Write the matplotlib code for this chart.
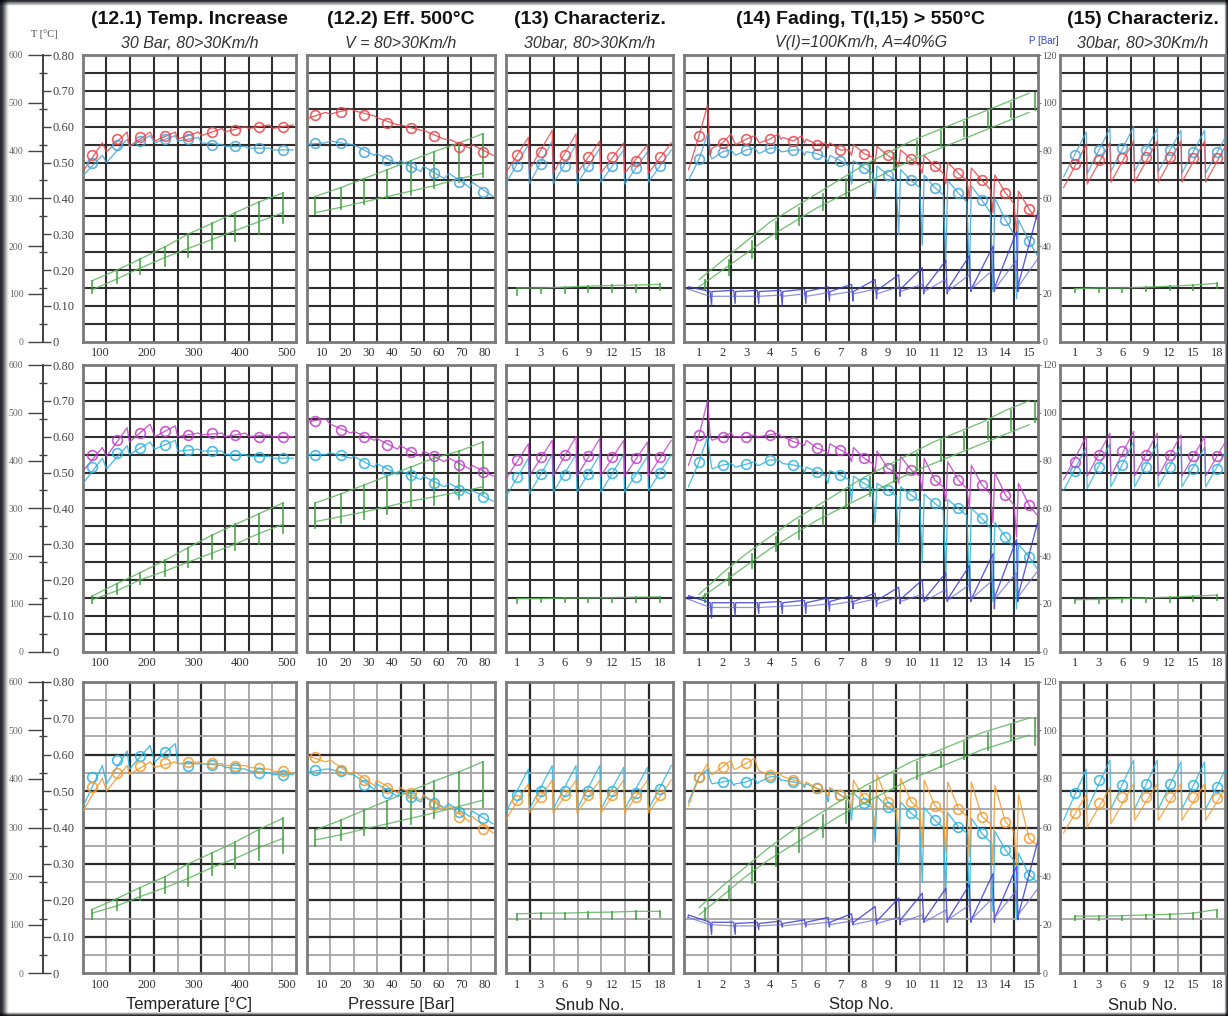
import numpy as np
import matplotlib.pyplot as plt
from matplotlib.patches import Rectangle

W, H = 1228, 1016

# ---------------- labels ----------------
TITLES = ['(12.1) Temp. Increase', '(12.2) Eff. 500°C', '(13) Characteriz.',
          '(14) Fading, T(I,15) > 550°C', '(15) Characteriz.']
SUBTITLES = ['30 Bar, 80>30Km/h', 'V = 80>30Km/h', '30bar, 80>30Km/h',
             'V(I)=100Km/h, A=40%G', '30bar, 80>30Km/h']
XLABELS = ['Temperature [°C]', 'Pressure [Bar]', 'Snub No.', 'Stop No.', 'Snub No.']

TEMP_TICKS = [100, 200, 300, 400, 500]
PRESS_TICKS = [10, 20, 30, 40, 50, 60, 70, 80]
SNUB_LABELS = ['1', '3', '6', '9', '12', '15', '18']
STOP_LABELS = ['1', '2', '3', '4', '5', '6', '7', '8', '9', '10', '11', '12', '13', '14', '15']
T_TICKS = [0, 100, 200, 300, 400, 500, 600]
MU_TICKS = [0, 0.1, 0.2, 0.3, 0.4, 0.5, 0.6, 0.7, 0.8]
MU_LABELS = ['0', '0.10', '0.20', '0.30', '0.40', '0.50', '0.60', '0.70', '0.80']
P_TICKS = [0, 20, 40, 60, 80, 100, 120]

# ---------------- x positions of steps ----------------
TEMP_X = [83, 136, 185, 239, 288, 339, 389, 440, 491]
PRESS_X = [7, 18, 28, 38, 48, 58, 69, 79]
SNUB_X = [1, 2, 3, 4, 5, 6, 7]
STOP_X = [1, 2, 3, 4, 5, 6, 7, 8, 9, 10, 11, 12, 13, 14, 15]

# ---------------- (12.1) temperature increase : mu ----------------
R1_TW_S = [0.47, 0.53, 0.545, 0.56, 0.565, 0.575, 0.585, 0.595, 0.595]
R1_TW_C = [0.52, 0.565, 0.57, 0.575, 0.575, 0.585, 0.59, 0.60, 0.60]
R1_TW_E = [0.555, 0.585, 0.585, 0.585, 0.585, 0.595, 0.60, 0.605, 0.605]
R1_TC_S = [0.46, 0.50, 0.545, 0.555, 0.56, 0.555, 0.545, 0.54, 0.535]
R1_TC_C = [0.50, 0.55, 0.56, 0.565, 0.565, 0.55, 0.545, 0.54, 0.535]
R1_TC_E = [0.52, 0.565, 0.575, 0.575, 0.57, 0.55, 0.545, 0.54, 0.535]

R2_TW_S = [0.50, 0.545, 0.585, 0.60, 0.60, 0.605, 0.60, 0.60, 0.60]
R2_TW_C = [0.55, 0.59, 0.61, 0.615, 0.605, 0.61, 0.605, 0.60, 0.60]
R2_TW_E = [0.57, 0.625, 0.635, 0.63, 0.61, 0.61, 0.61, 0.605, 0.60]
R2_TC_S = [0.465, 0.51, 0.55, 0.565, 0.56, 0.56, 0.55, 0.545, 0.54]
R2_TC_C = [0.516, 0.554, 0.568, 0.577, 0.563, 0.559, 0.549, 0.543, 0.54]
R2_TC_E = [0.54, 0.575, 0.585, 0.59, 0.565, 0.56, 0.55, 0.545, 0.54]

R3_TW_S = [0.44, 0.50, 0.545, 0.565, 0.575, 0.575, 0.57, 0.565, 0.555]
R3_TW_C = [0.512, 0.549, 0.569, 0.576, 0.58, 0.576, 0.569, 0.562, 0.555]
R3_TW_E = [0.535, 0.57, 0.58, 0.58, 0.58, 0.575, 0.57, 0.56, 0.55]
R3_TC_S = [0.45, 0.52, 0.56, 0.58, 0.575, 0.575, 0.565, 0.555, 0.545]
R3_TC_C = [0.539, 0.585, 0.596, 0.608, 0.569, 0.572, 0.562, 0.549, 0.544]
R3_TC_E = [0.57, 0.61, 0.625, 0.63, 0.575, 0.57, 0.56, 0.55, 0.545]

# (12.1) green
R1_TG_HI = [0.17, 0.20, 0.23, 0.265, 0.30, 0.33, 0.36, 0.39, 0.415]
R1_TG_LO = [0.145, 0.175, 0.205, 0.235, 0.26, 0.285, 0.31, 0.335, 0.36]
R1_TG_TB = [0.135, 0.165, 0.19, 0.21, 0.235, 0.26, 0.28, 0.30, 0.33]
R2_TG_HI = [0.155, 0.19, 0.22, 0.255, 0.29, 0.325, 0.355, 0.385, 0.415]
R2_TG_LO = [0.145, 0.17, 0.20, 0.225, 0.25, 0.275, 0.30, 0.33, 0.355]
R2_TG_TB = [0.135, 0.16, 0.19, 0.21, 0.235, 0.26, 0.285, 0.30, 0.33]
R3_TG_HI = [0.175, 0.205, 0.235, 0.265, 0.30, 0.33, 0.36, 0.395, 0.425]
R3_TG_LO = [0.165, 0.185, 0.21, 0.235, 0.26, 0.29, 0.315, 0.345, 0.37]
R3_TG_TB = [0.15, 0.175, 0.20, 0.22, 0.24, 0.27, 0.29, 0.31, 0.33]

# ---------------- (12.2) efficiency : mu ----------------
R1_PW_S = [0.62, 0.635, 0.645, 0.625, 0.605, 0.59, 0.565, 0.55]
R1_PW_C = [0.632, 0.642, 0.632, 0.61, 0.596, 0.574, 0.544, 0.53]
R1_PW_E = [0.64, 0.65, 0.63, 0.605, 0.59, 0.565, 0.54, 0.52]
R1_PC_S = [0.55, 0.56, 0.55, 0.525, 0.505, 0.49, 0.47, 0.445]
R1_PC_C = [0.554, 0.554, 0.53, 0.507, 0.488, 0.47, 0.447, 0.419]
R1_PC_E = [0.555, 0.55, 0.52, 0.495, 0.475, 0.455, 0.43, 0.405]

R2_PW_S = [0.64, 0.635, 0.615, 0.595, 0.575, 0.56, 0.54, 0.52]
R2_PW_C = [0.645, 0.62, 0.60, 0.578, 0.556, 0.545, 0.522, 0.502]
R2_PW_E = [0.65, 0.61, 0.59, 0.565, 0.545, 0.53, 0.51, 0.49]
R2_PC_S = [0.55, 0.555, 0.545, 0.525, 0.505, 0.49, 0.47, 0.45]
R2_PC_C = [0.549, 0.549, 0.527, 0.507, 0.493, 0.47, 0.451, 0.432]
R2_PC_E = [0.55, 0.54, 0.515, 0.495, 0.48, 0.46, 0.44, 0.42]

R3_PW_S = [0.60, 0.585, 0.555, 0.53, 0.51, 0.49, 0.46, 0.43]
R3_PW_C = [0.593, 0.557, 0.53, 0.508, 0.494, 0.462, 0.43, 0.397]
R3_PW_E = [0.58, 0.545, 0.515, 0.495, 0.475, 0.45, 0.415, 0.385]
R3_PC_S = [0.55, 0.56, 0.545, 0.52, 0.50, 0.485, 0.465, 0.445]
R3_PC_C = [0.557, 0.555, 0.517, 0.494, 0.483, 0.467, 0.442, 0.426]
R3_PC_E = [0.56, 0.545, 0.505, 0.485, 0.47, 0.455, 0.43, 0.41]

# (12.2) green
R1_PG_HI = [0.405, 0.43, 0.455, 0.48, 0.505, 0.53, 0.555, 0.58]
R1_PG_LO = [0.36, 0.375, 0.39, 0.405, 0.42, 0.435, 0.455, 0.47]
R1_PG_TB = [0.355, 0.37, 0.385, 0.40, 0.41, 0.43, 0.445, 0.46]
R2_PG_HI = [0.415, 0.44, 0.465, 0.49, 0.515, 0.54, 0.56, 0.585]
R2_PG_LO = [0.363, 0.377, 0.39, 0.405, 0.42, 0.432, 0.446, 0.46]
R2_PG_TB = [0.345, 0.36, 0.37, 0.385, 0.40, 0.41, 0.425, 0.44]
R3_PG_HI = [0.393, 0.42, 0.447, 0.474, 0.50, 0.527, 0.553, 0.58]
R3_PG_LO = [0.366, 0.38, 0.396, 0.41, 0.425, 0.44, 0.458, 0.475]
R3_PG_TB = [0.35, 0.365, 0.38, 0.395, 0.41, 0.425, 0.44, 0.455]

# ---------------- (13) characterization : mu ----------------
R1_AW_L = [0.47, 0.48, 0.47, 0.47, 0.47, 0.47, 0.47]
R1_AW_C = [0.52, 0.53, 0.52, 0.515, 0.515, 0.505, 0.515]
R1_AW_H = [0.57, 0.59, 0.58, 0.56, 0.555, 0.55, 0.555]
R1_AC_L = [0.44, 0.44, 0.44, 0.44, 0.445, 0.44, 0.445]
R1_AC_C = [0.49, 0.495, 0.49, 0.49, 0.49, 0.485, 0.49]
R1_AC_H = [0.55, 0.56, 0.55, 0.54, 0.535, 0.53, 0.535]

R2_AW_L = [0.48, 0.49, 0.49, 0.49, 0.49, 0.49, 0.49]
R2_AW_C = [0.535, 0.543, 0.549, 0.545, 0.543, 0.54, 0.543]
R2_AW_H = [0.58, 0.59, 0.60, 0.595, 0.59, 0.585, 0.59]
R2_AC_L = [0.43, 0.44, 0.445, 0.445, 0.445, 0.445, 0.45]
R2_AC_C = [0.488, 0.496, 0.493, 0.496, 0.50, 0.488, 0.50]
R2_AC_H = [0.54, 0.55, 0.55, 0.55, 0.55, 0.545, 0.55]

R3_AW_L = [0.42, 0.44, 0.44, 0.44, 0.44, 0.44, 0.44]
R3_AW_C = [0.475, 0.485, 0.49, 0.49, 0.49, 0.485, 0.49]
R3_AW_H = [0.52, 0.53, 0.53, 0.53, 0.53, 0.53, 0.53]
R3_AC_L = [0.44, 0.45, 0.45, 0.45, 0.45, 0.45, 0.45]
R3_AC_C = [0.49, 0.50, 0.50, 0.50, 0.50, 0.495, 0.505]
R3_AC_H = [0.56, 0.57, 0.57, 0.57, 0.565, 0.565, 0.57]

R1_AG_HI = [0.15, 0.15, 0.152, 0.155, 0.157, 0.158, 0.16]
R1_AG_TB = [0.13, 0.135, 0.135, 0.14, 0.14, 0.14, 0.145]
R2_AG_HI = [0.148, 0.148, 0.15, 0.15, 0.151, 0.152, 0.153]
R2_AG_TB = [0.135, 0.138, 0.138, 0.14, 0.14, 0.14, 0.14]
R3_AG_HI = [0.163, 0.165, 0.165, 0.167, 0.168, 0.17, 0.17]
R3_AG_TB = [0.145, 0.15, 0.148, 0.152, 0.15, 0.15, 0.155]

# ---------------- (14) fading : mu per stop ----------------
R1_FW_S = [0.48, 0.54, 0.55, 0.555, 0.57, 0.565, 0.555, 0.55, 0.545, 0.535, 0.52, 0.50, 0.485, 0.465, 0.42]
R1_FW_C = [0.575, 0.555, 0.565, 0.565, 0.56, 0.55, 0.535, 0.525, 0.52, 0.51, 0.49, 0.47, 0.45, 0.415, 0.37]
R1_FW_E = [0.66, 0.58, 0.575, 0.58, 0.575, 0.555, 0.535, 0.515, 0.505, 0.49, 0.47, 0.45, 0.425, 0.385, 0.34]
R1_FW_D = [0.52, 0.56, 0.565, 0.565, 0.555, 0.54, 0.52, 0.50, 0.49, 0.47, 0.44, 0.40, 0.36, 0.30, 0.22]
R1_FC_S = [0.45, 0.51, 0.52, 0.525, 0.53, 0.53, 0.52, 0.505, 0.49, 0.48, 0.465, 0.45, 0.435, 0.40, 0.34]
R1_FC_C = [0.51, 0.53, 0.535, 0.54, 0.535, 0.525, 0.505, 0.485, 0.465, 0.45, 0.43, 0.415, 0.395, 0.34, 0.28]
R1_FC_E = [0.58, 0.535, 0.54, 0.54, 0.535, 0.515, 0.49, 0.47, 0.45, 0.43, 0.41, 0.39, 0.36, 0.30, 0.24]
R1_FC_D = [0.52, 0.525, 0.53, 0.53, 0.52, 0.50, 0.44, 0.40, 0.30, 0.27, 0.22, 0.18, 0.14, 0.12, 0.10]

R2_FW_S = [0.52, 0.59, 0.60, 0.60, 0.60, 0.59, 0.58, 0.57, 0.56, 0.545, 0.54, 0.53, 0.52, 0.50, 0.47]
R2_FW_C = [0.605, 0.60, 0.60, 0.605, 0.586, 0.568, 0.563, 0.54, 0.512, 0.507, 0.479, 0.479, 0.465, 0.437, 0.409]
R2_FW_E = [0.70, 0.61, 0.605, 0.61, 0.58, 0.56, 0.55, 0.525, 0.50, 0.49, 0.46, 0.455, 0.44, 0.41, 0.38]
R2_FW_D = [0.60, 0.60, 0.60, 0.60, 0.575, 0.55, 0.53, 0.50, 0.47, 0.45, 0.42, 0.40, 0.36, 0.32, 0.30]
R2_FC_S = [0.46, 0.51, 0.515, 0.52, 0.525, 0.515, 0.505, 0.49, 0.47, 0.46, 0.44, 0.425, 0.40, 0.36, 0.30]
R2_FC_C = [0.53, 0.521, 0.523, 0.535, 0.521, 0.502, 0.493, 0.47, 0.451, 0.437, 0.414, 0.40, 0.372, 0.321, 0.265]
R2_FC_E = [0.60, 0.525, 0.53, 0.535, 0.515, 0.49, 0.48, 0.455, 0.435, 0.42, 0.395, 0.38, 0.345, 0.29, 0.23]
R2_FC_D = [0.54, 0.52, 0.52, 0.53, 0.50, 0.47, 0.42, 0.36, 0.30, 0.25, 0.21, 0.17, 0.14, 0.12, 0.11]

R3_FW_S = [0.46, 0.545, 0.56, 0.555, 0.54, 0.525, 0.51, 0.53, 0.545, 0.535, 0.53, 0.525, 0.525, 0.515, 0.49]
R3_FW_C = [0.539, 0.567, 0.576, 0.544, 0.53, 0.507, 0.489, 0.48, 0.471, 0.471, 0.46, 0.452, 0.43, 0.416, 0.37]
R3_FW_E = [0.575, 0.585, 0.59, 0.55, 0.525, 0.50, 0.475, 0.46, 0.45, 0.45, 0.44, 0.43, 0.41, 0.39, 0.35]
R3_FW_D = [0.55, 0.56, 0.565, 0.545, 0.515, 0.485, 0.45, 0.40, 0.36, 0.345, 0.33, 0.32, 0.30, 0.29, 0.30]
R3_FC_S = [0.47, 0.52, 0.52, 0.525, 0.53, 0.52, 0.505, 0.495, 0.485, 0.47, 0.455, 0.44, 0.425, 0.39, 0.33]
R3_FC_C = [0.539, 0.525, 0.525, 0.539, 0.525, 0.507, 0.489, 0.466, 0.457, 0.439, 0.42, 0.402, 0.384, 0.338, 0.27]
R3_FC_E = [0.56, 0.53, 0.535, 0.54, 0.52, 0.50, 0.475, 0.455, 0.44, 0.42, 0.40, 0.385, 0.36, 0.31, 0.25]
R3_FC_D = [0.53, 0.515, 0.52, 0.53, 0.51, 0.47, 0.42, 0.36, 0.30, 0.25, 0.22, 0.19, 0.17, 0.15, 0.12]

# (14) pressure [bar], green
R1_FG_HI = [26, 34, 42, 50, 56, 62, 68, 74, 79, 84, 88, 92, 96, 100, 104]
R1_FG_LO = [23, 30, 37, 44, 50, 56, 61, 66, 71, 76, 80, 84, 88, 92, 96]
R1_FG_TB = [22, 28, 35, 43, 49, 55, 61, 67, 72, 78, 82, 86, 90, 94, 97]
R2_FG_HI = [24, 33, 41, 48, 55, 61, 67, 73, 78, 83, 88, 92, 96, 101, 105]
R2_FG_LO = [22, 29, 36, 43, 49, 55, 60, 65, 70, 75, 79, 83, 87, 91, 95]
R2_FG_TB = [21, 28, 35, 42, 47, 53, 60, 65, 71, 76, 80, 85, 89, 93, 96]
R3_FG_HI = [27, 36, 44, 52, 59, 65, 71, 77, 82, 87, 91, 95, 99, 102, 105]
R3_FG_LO = [24, 32, 40, 47, 53, 59, 65, 70, 75, 80, 84, 88, 92, 95, 98]
R3_FG_TB = [22, 30, 37, 44, 50, 56, 62, 70, 76, 80, 85, 88, 92, 96, 94]

# (14) disc temperature traces (read on the P scale), blue
R1_BA_S = [23, 21, 21, 21, 21, 21, 21, 21, 21.5, 22, 22, 22, 22, 23, 24]
R1_BA_E = [21, 21.5, 21.5, 21.5, 22, 23, 24, 26, 28, 31, 34, 36, 40, 46, 58]
R1_BA_D = [22, 15, 16, 16, 15, 16, 17, 17, 18, 19, 20, 20, 21, 21, 21]
R1_BB_S = [22, 19, 19, 19, 19, 19, 19.5, 20, 20, 21, 21, 21, 22, 22, 23]
R1_BB_E = [19, 19, 19, 19.5, 20, 20.5, 21, 22, 23, 24, 26, 28, 30, 34, 36]
R2_BA_S = [23.5, 20.5, 20.5, 20.5, 20.5, 20.5, 21, 21, 21.5, 22, 22, 22, 22, 23, 24]
R2_BA_E = [20.5, 20.5, 20.5, 21, 21.5, 22.5, 23.5, 24.5, 27, 30, 33, 36, 41, 47, 58]
R2_BA_D = [22, 14, 15, 16, 16, 16, 17, 18, 19, 20, 21, 21, 21, 18, 21]
R2_BB_S = [22, 18.5, 18.5, 18.5, 19, 19, 19.5, 20, 20, 21, 21, 21.5, 22, 22, 23]
R2_BB_E = [18.5, 18.5, 18.5, 19, 19.5, 20, 21, 22, 23, 24, 26, 28, 30, 33, 35]
R3_BA_S = [24, 21, 20.5, 20.5, 20.5, 21, 21, 21, 21.5, 22, 22, 22, 22, 23, 24]
R3_BA_E = [21, 21, 21, 21.5, 22, 23, 24.5, 27.5, 31, 33, 35, 36.5, 41, 44, 58]
R3_BA_D = [23, 16, 16, 18, 19, 19, 19, 20, 20, 20, 21, 21, 21, 21, 22]
R3_BB_S = [23, 20, 19.5, 19.5, 19.5, 20, 20, 20, 20.5, 21, 21, 22, 22, 23, 24]
R3_BB_E = [20, 19.5, 19.5, 20, 20.5, 21, 21.5, 22, 23, 24, 26, 28, 31, 34, 36]

# ---------------- (15) characterization : mu ----------------
R1_BW_L = [0.43, 0.44, 0.445, 0.445, 0.445, 0.445, 0.445]
R1_BW_C = [0.496, 0.507, 0.512, 0.515, 0.515, 0.512, 0.512]
R1_BW_H = [0.55, 0.555, 0.56, 0.56, 0.56, 0.56, 0.56]
R1_BC_L = [0.46, 0.47, 0.475, 0.475, 0.475, 0.47, 0.47]
R1_BC_C = [0.52, 0.535, 0.54, 0.535, 0.535, 0.53, 0.53]
R1_BC_H = [0.585, 0.595, 0.60, 0.595, 0.59, 0.59, 0.585]

R2_BW_L = [0.48, 0.49, 0.49, 0.49, 0.49, 0.49, 0.49]
R2_BW_C = [0.53, 0.55, 0.56, 0.55, 0.55, 0.545, 0.545]
R2_BW_H = [0.60, 0.61, 0.615, 0.61, 0.605, 0.60, 0.60]
R2_BC_L = [0.45, 0.455, 0.46, 0.46, 0.46, 0.46, 0.46]
R2_BC_C = [0.505, 0.515, 0.52, 0.515, 0.515, 0.51, 0.51]
R2_BC_H = [0.57, 0.58, 0.585, 0.58, 0.575, 0.57, 0.57]

R3_BW_L = [0.385, 0.40, 0.41, 0.42, 0.42, 0.42, 0.42]
R3_BW_C = [0.44, 0.467, 0.484, 0.484, 0.484, 0.484, 0.48]
R3_BW_H = [0.49, 0.51, 0.52, 0.52, 0.52, 0.52, 0.52]
R3_BC_L = [0.42, 0.45, 0.45, 0.45, 0.45, 0.45, 0.45]
R3_BC_C = [0.494, 0.53, 0.516, 0.52, 0.52, 0.516, 0.512]
R3_BC_H = [0.56, 0.585, 0.585, 0.585, 0.58, 0.58, 0.575]

R1_BG_HI = [0.148, 0.15, 0.15, 0.152, 0.155, 0.158, 0.163]
R1_BG_TB = [0.14, 0.14, 0.14, 0.142, 0.145, 0.145, 0.15]
R2_BG_HI = [0.145, 0.146, 0.148, 0.15, 0.152, 0.155, 0.158]
R2_BG_TB = [0.135, 0.135, 0.138, 0.14, 0.14, 0.142, 0.145]
R3_BG_HI = [0.157, 0.157, 0.158, 0.16, 0.162, 0.165, 0.175]
R3_BG_TB = [0.145, 0.145, 0.147, 0.15, 0.15, 0.15, 0.155]

# ---------------- styling ----------------
WARM = ['#e8454a', '#c040c8', '#f39a2c']
COOL = ['#45a4d8', '#30b2dc', '#28b2e2']
GREEN = '#5db65d'
BLUE = '#3c3cd6'

COLS = [(82.7, 296), (306.7, 495), (506, 673), (684, 1038), (1060, 1225)]
ROWS = [(55, 341.7), (365, 651.7), (681.7, 973.3)]
NCOLS = [9, 8, 7, 15, 7]
XLIM = [(63, 519), (3.4, 84.3), (0.54, 7.55), (0.36, 15.38), (0.37, 7.34)]
# heavier grid lines in the bottom row (vertical line indices)
DARK_V = [{2, 3, 5}, {4, 5}, {1, 6}, {3, 4, 7, 9, 12, 14}, {1, 2, 4, 6}]

SERIF = 'Liberation Serif'
SANS = 'Liberation Sans'
LW = 0.95

fig = plt.figure(figsize=(W / 100, H / 100), dpi=100)
fig.patch.set_facecolor('white')


def px_axes(l, r, t, b):
    return fig.add_axes([l / W, 1 - b / H, (r - l) / W, (b - t) / H])


def draw_grid(ax, ncol, row, col):
    for i in range(1, ncol):
        if row == 2:
            c, lw = ('#2a2a2a', 1.6) if i in DARK_V[col] else ('#a5a5a5', 1.3)
        else:
            c, lw = '#2e2e2e', 1.5
        ax.plot([i / ncol, i / ncol], [0, 1], transform=ax.transAxes, color=c, lw=lw, zorder=1)
    for j in range(1, 16):
        if row == 2:
            dark = j % 2 == 0 and j <= 12
            c, lw = ('#2a2a2a', 1.6) if dark else ('#a5a5a5', 1.3)
        else:
            c, lw = '#2e2e2e', 1.5
        ax.plot([0, 1], [j / 16, j / 16], transform=ax.transAxes, color=c, lw=lw, zorder=1)


def seg_path(xs, a, b, half):
    px, py = [], []
    for x, s, e in zip(xs, a, b):
        px += [x - half, x + half]
        py += [s, e]
    return px, py


def stop_path(xs, s, c, e, d):
    px, py = [], []
    for x, s1, c1, e1, d1 in zip(xs, s, c, e, d):
        px += [x - 0.45, x, x + 0.36, x + 0.47]
        py += [s1, c1, e1, d1]
    return px, py


def temp_path(xs, dip, s, e):
    px, py = [], []
    for x, d1, s1, e1 in zip(xs, dip, s, e):
        px += [x - 0.47, x - 0.45, x + 0.47]
        py += [d1, s1, e1]
    return px, py


def circles(ax, xs, ys, color):
    ax.plot(xs, ys, 'o', ms=7, mfc='none', mec=color, mew=1.2, alpha=0.85, zorder=4)


def green_ladder(ax, xs, hi, lo, tb, dx=0.0):
    ax.plot(xs, hi, color=GREEN, lw=LW, alpha=0.85, zorder=3)
    if lo is not None:
        ax.plot(xs, lo, color=GREEN, lw=LW, alpha=0.85, zorder=3)
    for x, h, b in zip(xs, hi, tb):
        ax.plot([x + dx, x + dx], [b, h], color='#3f9f3f', lw=1.3, alpha=0.85, zorder=3)


TEMP_DATA = [(R1_TW_S, R1_TW_C, R1_TW_E, R1_TC_S, R1_TC_C, R1_TC_E),
             (R2_TW_S, R2_TW_C, R2_TW_E, R2_TC_S, R2_TC_C, R2_TC_E),
             (R3_TW_S, R3_TW_C, R3_TW_E, R3_TC_S, R3_TC_C, R3_TC_E)]
TEMP_GREEN = [(R1_TG_HI, R1_TG_LO, R1_TG_TB), (R2_TG_HI, R2_TG_LO, R2_TG_TB),
              (R3_TG_HI, R3_TG_LO, R3_TG_TB)]
PRESS_DATA = [(R1_PW_S, R1_PW_C, R1_PW_E, R1_PC_S, R1_PC_C, R1_PC_E),
              (R2_PW_S, R2_PW_C, R2_PW_E, R2_PC_S, R2_PC_C, R2_PC_E),
              (R3_PW_S, R3_PW_C, R3_PW_E, R3_PC_S, R3_PC_C, R3_PC_E)]
PRESS_GREEN = [(R1_PG_HI, R1_PG_LO, R1_PG_TB), (R2_PG_HI, R2_PG_LO, R2_PG_TB),
               (R3_PG_HI, R3_PG_LO, R3_PG_TB)]
CHAR13 = [(R1_AW_L, R1_AW_C, R1_AW_H, R1_AC_L, R1_AC_C, R1_AC_H),
          (R2_AW_L, R2_AW_C, R2_AW_H, R2_AC_L, R2_AC_C, R2_AC_H),
          (R3_AW_L, R3_AW_C, R3_AW_H, R3_AC_L, R3_AC_C, R3_AC_H)]
CHAR13_GREEN = [(R1_AG_HI, R1_AG_TB), (R2_AG_HI, R2_AG_TB), (R3_AG_HI, R3_AG_TB)]
CHAR15 = [(R1_BW_L, R1_BW_C, R1_BW_H, R1_BC_L, R1_BC_C, R1_BC_H),
          (R2_BW_L, R2_BW_C, R2_BW_H, R2_BC_L, R2_BC_C, R2_BC_H),
          (R3_BW_L, R3_BW_C, R3_BW_H, R3_BC_L, R3_BC_C, R3_BC_H)]
CHAR15_GREEN = [(R1_BG_HI, R1_BG_TB), (R2_BG_HI, R2_BG_TB), (R3_BG_HI, R3_BG_TB)]
FADE = [(R1_FW_S, R1_FW_C, R1_FW_E, R1_FW_D, R1_FC_S, R1_FC_C, R1_FC_E, R1_FC_D),
        (R2_FW_S, R2_FW_C, R2_FW_E, R2_FW_D, R2_FC_S, R2_FC_C, R2_FC_E, R2_FC_D),
        (R3_FW_S, R3_FW_C, R3_FW_E, R3_FW_D, R3_FC_S, R3_FC_C, R3_FC_E, R3_FC_D)]
FADE_GREEN = [(R1_FG_HI, R1_FG_LO, R1_FG_TB), (R2_FG_HI, R2_FG_LO, R2_FG_TB),
              (R3_FG_HI, R3_FG_LO, R3_FG_TB)]
FADE_TEMP = [(R1_BA_D, R1_BA_S, R1_BA_E, R1_BB_S, R1_BB_E),
             (R2_BA_D, R2_BA_S, R2_BA_E, R2_BB_S, R2_BB_E),
             (R3_BA_D, R3_BA_S, R3_BA_E, R3_BB_S, R3_BB_E)]

tick_sets = [(TEMP_TICKS, [str(t) for t in TEMP_TICKS]),
             (PRESS_TICKS, [str(t) for t in PRESS_TICKS]),
             (SNUB_X, SNUB_LABELS),
             (STOP_X, STOP_LABELS),
             (SNUB_X, SNUB_LABELS)]

for r, (top, bot) in enumerate(ROWS):
    warm, cool = WARM[r], COOL[r]
    for c, (l, rgt) in enumerate(COLS):
        ax = px_axes(l, rgt, top, bot)
        ax.set_xlim(*XLIM[c])
        ax.set_ylim(0, 0.8)
        ax.set_yticks([])
        ax.set_xticks(tick_sets[c][0])
        ax.set_xticklabels(tick_sets[c][1], fontfamily=SERIF, fontsize=9, color='#333333')
        ax.tick_params(axis='x', length=0, pad=4)
        for sp in ax.spines.values():
            sp.set_color('#7a7a7a')
            sp.set_linewidth(2.0)
        draw_grid(ax, NCOLS[c], r, c)

        if c == 0:
            ws, wc, we, cs, cc, ce = TEMP_DATA[r]
            hi, lo, tb = TEMP_GREEN[r]
            green_ladder(ax, TEMP_X, hi, lo, tb)
            px_, py_ = seg_path(TEMP_X, cs, ce, 22)
            ax.plot(px_, py_, color=cool, lw=LW, alpha=0.85, zorder=3)
            px_, py_ = seg_path(TEMP_X, ws, we, 22)
            ax.plot(px_, py_, color=warm, lw=LW, alpha=0.85, zorder=3)
            circles(ax, TEMP_X, cc, cool)
            circles(ax, TEMP_X, wc, warm)
        elif c == 1:
            ws, wc, we, cs, cc, ce = PRESS_DATA[r]
            hi, lo, tb = PRESS_GREEN[r]
            green_ladder(ax, PRESS_X, hi, lo, tb)
            px_, py_ = seg_path(PRESS_X, cs, ce, 4.5)
            ax.plot(px_, py_, color=cool, lw=LW, alpha=0.85, zorder=3)
            px_, py_ = seg_path(PRESS_X, ws, we, 4.5)
            ax.plot(px_, py_, color=warm, lw=LW, alpha=0.85, zorder=3)
            circles(ax, PRESS_X, cc, cool)
            circles(ax, PRESS_X, wc, warm)
        elif c in (2, 4):
            data = CHAR13[r] if c == 2 else CHAR15[r]
            gdat = CHAR13_GREEN[r] if c == 2 else CHAR15_GREEN[r]
            wl, wc, wh, cl, cc, ch = data
            green_ladder(ax, SNUB_X, gdat[0], None, gdat[1])
            px_, py_ = seg_path(SNUB_X, cl, ch, 0.48)
            ax.plot(px_, py_, color=cool, lw=LW, alpha=0.8, zorder=3)
            px_, py_ = seg_path(SNUB_X, wl, wh, 0.48)
            ax.plot(px_, py_, color=warm, lw=LW, alpha=0.8, zorder=3)
            circles(ax, SNUB_X, cc, cool)
            circles(ax, SNUB_X, wc, warm)
        else:
            ws, wc, we, wd, cs, cc, ce, cd = FADE[r]
            px_, py_ = stop_path(STOP_X, cs, cc, ce, cd)
            ax.plot(px_, py_, color=cool, lw=LW, alpha=0.85, zorder=3)
            px_, py_ = stop_path(STOP_X, ws, wc, we, wd)
            ax.plot(px_, py_, color=warm, lw=LW, alpha=0.85, zorder=3)
            circles(ax, STOP_X, cc, cool)
            circles(ax, STOP_X, wc, warm)

            axp = ax.twinx()
            axp.set_ylim(0, 120)
            for sp in axp.spines.values():
                sp.set_visible(False)
            axp.set_yticks(P_TICKS)
            axp.set_yticklabels([str(p) for p in P_TICKS], fontfamily=SERIF,
                                fontsize=7, color='#555555')
            axp.tick_params(axis='y', length=2, pad=1, color='#777777')
            hi, lo, tb = FADE_GREEN[r]
            green_ladder(axp, STOP_X, hi, lo, tb, dx=0.25)
            bd, bs, be, b2s, b2e = FADE_TEMP[r]
            px_, py_ = temp_path(STOP_X, bd, bs, be)
            axp.plot(px_, py_, color=BLUE, lw=LW, alpha=0.85, zorder=3)
            px_, py_ = seg_path(STOP_X, b2s, b2e, 0.46)
            axp.plot(px_, py_, color='#6b6be0', lw=0.9, alpha=0.75, zorder=3)

    # left double scale: temperature / friction coefficient
    rl = fig.add_axes([43 / W, 1 - bot / H, 0.0001, (bot - top) / H])
    rl.set_facecolor('none')
    rl.set_ylim(0, 600)
    rl.xaxis.set_visible(False)
    for k in ('top', 'bottom', 'right'):
        rl.spines[k].set_visible(False)
    rl.spines['left'].set_color('#333333')
    rl.spines['left'].set_linewidth(1.3)
    rl.set_yticks(T_TICKS)
    rl.set_yticklabels([str(t) for t in T_TICKS], fontfamily=SERIF, fontsize=7, color='#666666')
    rl.tick_params(axis='y', direction='out', length=11, width=1, pad=3, color='#444444')
    rr = rl.twinx()
    rr.set_ylim(0, 0.8)
    rr.xaxis.set_visible(False)
    for k in ('top', 'bottom', 'left', 'right'):
        rr.spines[k].set_visible(False)
    rr.set_yticks(MU_TICKS)
    rr.set_yticklabels(MU_LABELS, fontfamily=SERIF, fontsize=9, color='#444444')
    rr.set_yticks([0.05, 0.15, 0.25, 0.35, 0.45, 0.55, 0.65, 0.75], minor=True)
    rr.tick_params(axis='y', which='major', direction='out', length=6, width=1, pad=1, color='#444444')
    rr.tick_params(axis='y', which='minor', direction='inout', length=6, width=1, color='#444444')

# titles and axis names
for c, (l, rgt) in enumerate(COLS):
    cx = (l + rgt) / 2 / W
    fig.text(cx, 1 - 20 / H, TITLES[c], ha='center', va='center', fontfamily=SANS,
             fontweight='bold', fontsize=14, color='#111111')
    fig.text(cx, 1 - 43 / H, SUBTITLES[c], ha='center', va='center', fontfamily=SANS,
             fontstyle='italic', fontsize=11.5, color='#333333')
    fig.text(cx, 1 - 1005 / H, XLABELS[c], ha='center', va='center', fontfamily=SANS,
             fontsize=12, color='#222222')

fig.text(44 / W, 1 - 34 / H, 'T [°C]', ha='center', va='center', fontfamily=SERIF,
         fontsize=7.5, color='#444444')
fig.text(1044 / W, 1 - 41 / H, 'P [Bar]', ha='center', va='center', fontfamily=SANS,
         fontsize=7, color='#3344cc')

# dark photo border
for i in range(8):
    a = 1 - i / 8
    fig.patches.append(Rectangle((0, 0), (2 + i * 1.0) / W, 1, transform=fig.transFigure,
                                 color='#05060c', alpha=a * 0.35, zorder=-5, lw=0))
    fig.patches.append(Rectangle((0, 1 - (1 + i * 0.7) / H), 1, (1 + i * 0.7) / H,
                                 transform=fig.transFigure, color='#05060c', alpha=a * 0.35,
                                 zorder=-5, lw=0))
    fig.patches.append(Rectangle((0, 0), 1, (1 + i * 0.5) / H, transform=fig.transFigure,
                                 color='#05060c', alpha=a * 0.35, zorder=-5, lw=0))
    fig.patches.append(Rectangle((1 - (1 + i * 0.4) / W, 0), (1 + i * 0.4) / W, 1,
                                 transform=fig.transFigure, color='#05060c', alpha=a * 0.35,
                                 zorder=-5, lw=0))

fig.savefig('out.png', dpi=100, facecolor=fig.get_facecolor())
